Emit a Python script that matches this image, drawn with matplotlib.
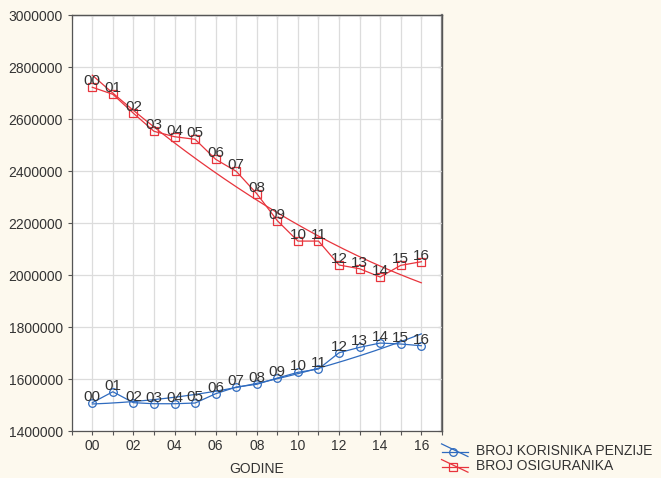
import numpy as np
import matplotlib
matplotlib.use("Agg")
import matplotlib.pyplot as plt
from matplotlib.lines import Line2D
from matplotlib.legend_handler import HandlerBase
from matplotlib.ticker import MultipleLocator, FuncFormatter, NullFormatter

years = np.arange(0, 17)
year_labels = ["00", "01", "02", "03", "04", "05", "06", "07", "08", "09",
               "10", "11", "12", "13", "14", "15", "16"]
osiguranika = [2723000, 2696000, 2623000, 2553500, 2532700, 2522700, 2445700,
               2399500, 2313300, 2209400, 2131000, 2131000, 2038900, 2024600,
               1992700, 2037600, 2051600]
korisnika = [1509000, 1551200, 1509000, 1505000, 1505000, 1507700, 1543500,
             1569300, 1579700, 1603900, 1625900, 1638600, 1701300, 1722100,
             1738600, 1734800, 1728300]
series_names = ["BROJ KORISNIKA PENZIJE", "BROJ OSIGURANIKA"]

plt.rcParams['font.family'] = ['Liberation Sans', 'DejaVu Sans']
TXT = '#333333'
RED = '#E8343C'
BLUE = '#2F6BBF'
BG = '#FDF9EE'

fig = plt.figure(figsize=(6.61, 4.78), dpi=100, facecolor=BG)
ax = fig.add_axes([0.1085, 0.0983, 0.56, 0.8697])
ax.set_facecolor('white')

xs = np.linspace(0, 16, 200)
for vals, color, marker in [(korisnika, BLUE, 'o'), (osiguranika, RED, 's')]:
    ax.plot(years, vals, color=color, lw=0.9, marker=marker, ms=5.5,
            mfc='none', mec=color, mew=0.9, zorder=3)
    coef = np.polyfit(years, vals, 2)
    ax.plot(xs, np.polyval(coef, xs), color=color, lw=0.9, zorder=3)
    for x, y, lab in zip(years, vals, year_labels):
        ax.annotate(lab, (x, y), xytext=(0, 1.5), textcoords='offset points',
                    ha='center', va='baseline', fontsize=11, color=TXT, zorder=4)

ax.set_xlim(-1, 17)
ax.set_ylim(1400000, 3000000)
ax.xaxis.set_major_locator(MultipleLocator(2))
ax.xaxis.set_minor_locator(MultipleLocator(1))
ax.xaxis.set_major_formatter(FuncFormatter(lambda v, p: f"{int(round(v)):02d}"))
ax.yaxis.set_major_locator(MultipleLocator(200000))
ax.yaxis.set_major_formatter(FuncFormatter(lambda v, p: f"{int(v)}"))
ax.grid(True, which='both', axis='x', color='#dcdcdc', lw=0.9, zorder=0)
ax.grid(True, which='major', axis='y', color='#dcdcdc', lw=0.9, zorder=0)
ax.set_axisbelow(True)

ax.tick_params(axis='both', which='both', colors='#555555', labelcolor=TXT,
               labelsize=10, length=3, width=0.8, direction='out')
ax.tick_params(axis='x', which='both', pad=2.5)

secx = ax.secondary_xaxis('top')
secx.xaxis.set_major_locator(MultipleLocator(1))
secx.xaxis.set_major_formatter(NullFormatter())
secx.tick_params(direction='in', length=3, width=0.8, colors='#555555')
secy = ax.secondary_yaxis('right')
secy.yaxis.set_major_locator(MultipleLocator(200000))
secy.yaxis.set_major_formatter(NullFormatter())
secy.tick_params(direction='in', length=3, width=0.8, colors='#555555')

for s in ax.spines.values():
    s.set_color('#555555')
    s.set_linewidth(0.9)
secx.spines['top'].set_color('#555555')
secx.spines['top'].set_linewidth(0.9)
secy.spines['right'].set_color('#777777')
secy.spines['right'].set_linewidth(1.6)

ax.set_xlabel("GODINE", fontsize=10, color=TXT, labelpad=6.5)


class HandlerSlant(HandlerBase):
    def create_artists(self, legend, orig_handle, xdescent, ydescent,
                       width, height, fontsize, trans):
        c = orig_handle.get_color()
        m = orig_handle.get_marker()
        l1 = Line2D([0, width], [height * 1.1, -height * 0.2], color=c, lw=0.9)
        l2 = Line2D([0, width], [height * 0.3, height * 0.3], color=c, lw=0.9)
        l3 = Line2D([width * 0.45], [height * 0.3], color=c, marker=m, ms=5.5,
                    mfc='none', mec=c, mew=0.9, lw=0)
        for a in (l1, l2, l3):
            a.set_transform(trans)
        return [l1, l2, l3]


handles = [Line2D([], [], color=BLUE, marker='o'),
           Line2D([], [], color=RED, marker='s')]
fig.legend(handles, series_names, handler_map={Line2D: HandlerSlant()},
           loc='upper left', bbox_to_anchor=(0.668, 0.072), frameon=False,
           fontsize=10, labelcolor=TXT, handlelength=1.9, handletextpad=0.55,
           labelspacing=0.12, borderaxespad=0, borderpad=0)

fig.savefig('out.png', dpi=100, facecolor=BG)
